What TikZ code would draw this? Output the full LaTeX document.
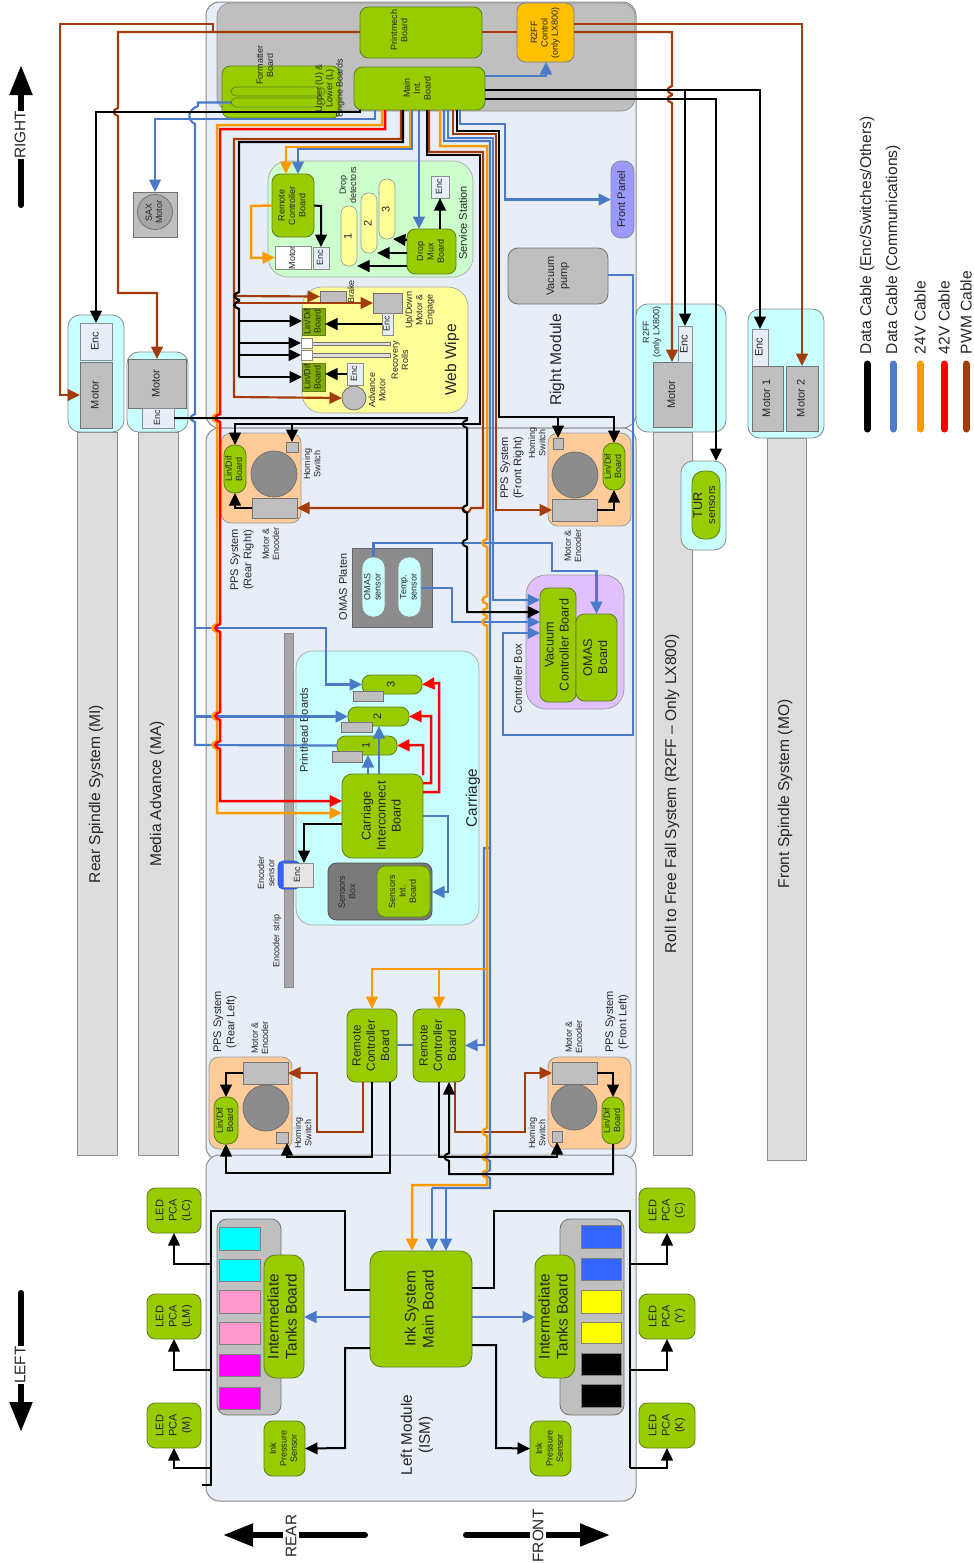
\documentclass[tikz,border=0pt]{standalone}
\usepackage{graphicx}
\usepackage{fontspec}
\setmainfont{Liberation Sans}
\usetikzlibrary{arrows.meta, calc}
\definecolor{panelc}{HTML}{E8EEF8}
\definecolor{greyc}{HTML}{BFBFBF}
\definecolor{stripc}{HTML}{DDDDDD}
\definecolor{cyanc}{HTML}{C8FFFF}
\definecolor{greenc}{HTML}{99CC00}
\definecolor{greenb}{HTML}{5F7F20}
\definecolor{orngc}{HTML}{FFCC99}
\definecolor{yelc}{HTML}{FFFF99}
\definecolor{mintc}{HTML}{CCFFCC}
\definecolor{purpc}{HTML}{E0C0FF}
\definecolor{amberc}{HTML}{FFC000}
\definecolor{panelblue}{HTML}{9999FF}
\definecolor{inkcyan}{HTML}{00FFFF}
\definecolor{inkpink}{HTML}{FF99CC}
\definecolor{inkmag}{HTML}{FF00FF}
\definecolor{inkblue}{HTML}{3366FF}
\definecolor{inkyel}{HTML}{FFFF00}
\definecolor{inkblk}{HTML}{000000}
\definecolor{cblack}{HTML}{000000}
\definecolor{cbluec}{HTML}{4A7AC8}
\definecolor{corangec}{HTML}{FF9900}
\definecolor{credc}{HTML}{FF0000}
\definecolor{cpwmc}{HTML}{A33C0A}
\newcommand{\fta}{\fontsize{5.4}{6.2}\selectfont}
\newcommand{\ftb}{\fontsize{6.6}{7.9}\selectfont}
\newcommand{\ftbb}{\fontsize{7.1}{8.5}\selectfont}
\newcommand{\ftc}{\fontsize{7.6}{9}\selectfont}
\newcommand{\ftd}{\fontsize{9.2}{10.8}\selectfont}
\newcommand{\fte}{\fontsize{9.35}{11}\selectfont}
\newcommand{\rot}[1]{\rotatebox{90}{\begin{tabular}{@{}c@{}}#1\end{tabular}}}
% wire hops, by direction of travel
\newcommand{\hopdn}[2]{-- (#1,#2-4) .. controls (#1-6,#2-2) and (#1-6,#2+2) .. (#1,#2+4)}
\newcommand{\hopup}[2]{-- (#1,#2+4) .. controls (#1-6,#2+2) and (#1-6,#2-2) .. (#1,#2-4)}
\newcommand{\hoplt}[2]{-- (#1+4,#2) .. controls (#1+2,#2+6) and (#1-2,#2+6) .. (#1-4,#2)}
\tikzset{
  xy/.style n args={4}{minimum width={(#3-#1)*0.6pt}, minimum height={(#4-#2)*0.6pt},
    at={({(#1+#3)/2},{(#2+#4)/2})}},
  every node/.append style={inner sep=0pt, outer sep=0pt, text=black!85},
  panel/.style={draw=black!45, fill=panelc, rounded corners=8pt, line width=.6pt},
  strip/.style={draw=black!45, fill=stripc, line width=.5pt},
  cybox/.style={draw=black!45, fill=cyanc, rounded corners=7pt, line width=.5pt},
  enc/.style={draw=black!45, fill=panelc, line width=.5pt, font=\fta},
  motor/.style={draw=black!55, fill=greyc, line width=.5pt, font=\fta},
  board/.style={draw=greenb, fill=greenc, rounded corners=5pt, line width=.5pt, font=\ftb},
  lindif/.style={draw=greenb, fill=greenc, rounded corners=6pt, line width=.5pt, font=\fta},
  pps/.style={draw=black!40, fill=orngc, rounded corners=6pt, line width=.5pt},
  round/.style={circle, draw=black!55, fill=black!45, line width=.5pt, font=\fta},
  lbl/.style={rotate=90, align=center, font=\fta},
  cbk/.style={draw=cblack, line width=1.2pt},
  cbl/.style={draw=cbluec, line width=1.3pt},
  c24/.style={draw=corangec, line width=1.5pt},
  c42/.style={draw=credc, line width=1.5pt},
  cpw/.style={draw=cpwmc, line width=1.3pt},
  bigarr/.style={line width=3.6pt, line cap=round, -{Triangle[length=18pt,width=13pt]}},
}
\begin{document}
\begin{tikzpicture}[x=0.6pt, y=-0.6pt, >={Triangle[length=7.5pt,width=7pt]}]
  \useasboundingbox (0,0) rectangle (974,1563);
  % modules
  \node[panel, xy={206}{2}{636}{428}] (modRight) {};
  \node[panel, xy={206}{428}{636}{1160}] (modCenter) {};
  \node[panel, xy={206}{1155}{636}{1501}] (modLeft) {};
  \node[draw=black!45, fill=greyc, rounded corners=8pt, xy={217}{3}{635}{111}] (topGrey) {};
  % spindle strips
  \node[strip, xy={77}{432}{117}{1155}] (stripMI) {};
  \node[strip, xy={138}{432}{178}{1155}] (stripMA) {};
  \node[strip, xy={653}{432}{692}{1155}] (stripRF) {};
  \node[strip, xy={767}{438}{806}{1160}] (stripMO) {};
  \node[lbl, font=\fte] (tMI) at (96,794) {Rear Spindle System (MI)};
  \node[lbl, font=\fte] (tMA) at (157,794) {Media Advance (MA)};
  \node[lbl, font=\fte] (tRF) at (672,794) {Roll to Free Fall System (R2FF -- Only LX800)};
  \node[lbl, font=\fte] (tMO) at (785,794) {Front Spindle System (MO)};
  \node[cybox, xy={68}{315}{124}{432}] (boxMI) {};
  \node[enc, font=\ftb, xy={80}{323}{112}{360}] (encMI) {\rot{Enc}};
  \node[motor, font=\ftb, xy={80}{362}{112}{428}] (motMI) {\rot{Motor}};
  \node[cybox, xy={127}{352}{188}{432}] (boxMA) {};
  \node[motor, font=\ftb, xy={128}{359}{186}{408}] (motMA) {\rot{Motor}};
  \node[enc, xy={142}{408}{174}{428}] (encMA) {\rot{Enc}};
  \node[cybox, xy={636}{304}{726}{432}] (boxRF) {};
  \node[motor, font=\ftb, xy={653}{362}{692}{427}] (motRF) {\rot{Motor}};
  \node[enc, font=\ftb, xy={678}{326}{692}{362}] (encRF) {\rot{Enc}};
  \node[lbl] (tRFb) at (652,332) {R2FF\\(only LX800)};
  \node[cybox, xy={748}{309}{824}{438}] (boxMO) {};
  \node[enc, font=\ftb, xy={752}{329}{768}{366}] (encMO) {\rot{Enc}};
  \node[motor, font=\ftb, xy={752}{366}{783}{431}] (mot1) {\rot{Motor 1}};
  \node[motor, font=\ftb, xy={786}{366}{818}{431}] (mot2) {\rot{Motor 2}};
  \node[cybox, xy={681}{461}{726}{550}] (boxTUR) {};
  \node[board, rounded corners=7pt, xy={692}{471}{720}{539}] (tur) {\rot{{\ftc TUR}\\sensors}};
  % top group
  \node[board, xy={360}{7}{482}{58}] (printmech) {};
  \node[lbl] (tPrintmech) at (399,30) {Printmech\\Board};
  \node[board, fill=amberc, draw=black!50, font=\fta, xy={517}{3}{574}{62}] (r2ffctl) {\rot{R2FF\\Control\\(only LX800)}};
  \node[board, xy={354}{67}{485}{110}] (mainint) {};
  \node[lbl] (tMainint) at (417,88) {Main\\Int.\\Board};
  \node[board, xy={222}{66}{340}{118}] (formatter) {};
  \node[draw=greenb, rounded corners=3pt, xy={231}{87}{325}{96}] (slotA) {};
  \node[draw=greenb, rounded corners=3pt, xy={231}{98}{325}{107}] (slotB) {};
  \node[lbl] (tFormatter) at (265,65) {Formatter\\Board};
  \node[lbl] (tEngine) at (330,88) {Upper (U) \&\\Lower (L)\\Engine Boards};
  \node[motor, xy={133}{192}{177}{237}] (sax) {};
  \node[round, minimum size=21pt, fill=black!35] (saxm) at (155,212) {\rot{SAX\\Motor}};
  \node[board, fill=panelblue, draw=black!45, rounded corners=6pt, xy={611}{161}{634}{238}] (frontpanel) {\rot{Front Panel}};
  \node[motor, rounded corners=6pt, font=\ftb, xy={508}{248}{608}{304}] (vacpump) {\rot{Vacuum\\pump}};
  \node[lbl, font=\fte] (tRight) at (557,360) {Right Module};
  % service station
  \node[draw=black!35, fill=mintc, rounded corners=12pt, xy={268}{161}{473}{277}] (service) {};
  \node[lbl, font=\ftb] (tService) at (463,223) {Service Station};
  \node[board, font=\fta, xy={272}{174}{314}{237}] (rcSS) {\rot{Remote\\Controller\\Board}};
  \node[enc, fill=white, xy={275}{247}{311}{268}] (motSS) {\rot{Motor}};
  \node[enc, xy={313}{247}{329}{269}] (encSS) {\rot{Enc}};
  \node[draw=black!40, fill=yelc, rounded corners=4.5pt, font=\ftb, xy={341}{206}{357}{266}] (dd1) {\rot{1}};
  \node[draw=black!40, fill=yelc, rounded corners=4.5pt, font=\ftb, xy={361}{193}{377}{253}] (dd2) {\rot{2}};
  \node[draw=black!40, fill=yelc, rounded corners=4.5pt, font=\ftb, xy={379}{179}{395}{239}] (dd3) {\rot{3}};
  \node[lbl] (tDrop) at (348,185) {Drop\\detectors};
  \node[board, font=\fta, xy={407}{229}{456}{274}] (dropmux) {\rot{Drop\\Mux\\Board}};
  \node[enc, xy={431}{176}{449}{198}] (encDD) {\rot{Enc}};
  % web wipe
  \node[draw=black!35, fill=yelc, rounded corners=12pt, xy={302}{287}{468}{413}] (webwipe) {};
  \node[lbl, font=\fte] (tWeb) at (452,360) {Web Wipe};
  \node[motor, xy={320}{291}{346}{302}] (brake) {};
  \node[lbl] (tBrake) at (351,292) {Brake};
  \node[motor, xy={373}{293}{402}{313}] (updown) {};
  \node[enc, xy={382}{313}{393}{335}] (encUD) {\rot{Enc}};
  \node[lbl] (tUpdown) at (420,310) {Up/Down\\Motor \&\\Engage};
  \node[draw=greenb, fill=greenc!85!black, font=\fta, xy={302}{308}{325}{335}] (ldWA) {\rot{Lin/Dif\\Board}};
  \node[draw=greenb, fill=greenc!85!black, font=\fta, xy={302}{363}{325}{391}] (ldWB) {\rot{Lin/Dif\\Board}};
  \node[motor, fill=stripc, xy={312}{342}{390}{345}] (rollA) {};
  \node[motor, fill=stripc, xy={312}{353}{390}{357}] (rollB) {};
  \node[enc, fill=white, xy={301}{338}{312}{348}] (rollAe) {};
  \node[enc, fill=white, xy={301}{350}{312}{360}] (rollBe) {};
  \node[lbl] (tRolls) at (400,360) {Recovery\\Rolls};
  \node[round, minimum size=14.4pt, fill=greyc] (advmot) at (354,398) {};
  \node[enc, xy={347}{363}{363}{385}] (encAM) {\rot{Enc}};
  \node[lbl] (tAdv) at (377,390) {Advance\\Motor};
  % pps systems
  \node[pps, xy={221}{433}{301}{523}] (ppsRR) {};
  \node[round, minimum size=27.6pt] (dRR) at (274,474) {};
  \node[lindif, xy={224}{445}{246}{493}] (ldRR) {\rot{Lin/Dif\\Board}};
  \node[motor, xy={252}{498}{297}{518}] (motRR) {};
  \node[motor, xy={286}{442}{298}{452}] (homRR) {};
  \node[lbl] (tHomRR) at (312,464) {Homing\\Switch};
  \node[lbl, font=\ftb] (tPpsRR) at (242,560) {PPS System\\(Rear Right)};
  \node[lbl] (tMeRR) at (271,544) {Motor \&\\Encoder};
  \node[pps, xy={548}{433}{631}{526}] (ppsFR) {};
  \node[round, minimum size=27.6pt] (dFR) at (575,475) {};
  \node[lindif, xy={603}{443}{625}{490}] (ldFR) {\rot{Lin/Dif\\Board}};
  \node[motor, xy={552}{499}{597}{521}] (motFR) {};
  \node[motor, xy={553}{438}{563}{449}] (homFR) {};
  \node[lbl, font=\ftb] (tPpsFR) at (512,468) {PPS System\\(Front Right)};
  \node[lbl] (tHomFR) at (537,443) {Homing\\Switch};
  \node[lbl] (tMeFR) at (573,546) {Motor \&\\Encoder};
  \node[pps, xy={209}{1057}{292}{1149}] (ppsRL) {};
  \node[round, minimum size=27.6pt] (dRL) at (266,1108) {};
  \node[motor, xy={243}{1062}{288}{1084}] (motRL) {};
  \node[lindif, xy={214}{1097}{238}{1144}] (ldRL) {\rot{Lin/Dif\\Board}};
  \node[motor, xy={276}{1132}{288}{1143}] (homRL) {};
  \node[lbl, font=\ftb] (tPpsRL) at (225,1022) {PPS System\\(Rear Left)};
  \node[lbl] (tMeRL) at (260,1038) {Motor \&\\Encoder};
  \node[lbl] (tHomRL) at (303,1133) {Homing\\Switch};
  \node[pps, xy={548}{1057}{631}{1149}] (ppsFL) {};
  \node[round, minimum size=27.6pt] (dFL) at (574,1107) {};
  \node[motor, xy={552}{1062}{597}{1084}] (motFL) {};
  \node[lindif, xy={602}{1097}{624}{1144}] (ldFL) {\rot{Lin/Dif\\Board}};
  \node[motor, xy={552}{1131}{562}{1142}] (homFL) {};
  \node[lbl, font=\ftb] (tPpsFL) at (617,1022) {PPS System\\(Front Left)};
  \node[lbl] (tMeFL) at (574,1037) {Motor \&\\Encoder};
  \node[lbl] (tHomFL) at (537,1133) {Homing\\Switch};
  % omas and controller box
  \node[draw=black!60, fill=black!45, xy={352}{548}{432}{627}] (omasplaten) {};
  \node[lbl, font=\ftb] (tOmas) at (343,587) {OMAS Platen};
  \node[draw=black!45, fill=cyanc, rounded corners=6.5pt, font=\fta, xy={362}{557}{385}{617}] (omassens) {\rot{OMAS\\sensor}};
  \node[draw=black!45, fill=cyanc, rounded corners=6.5pt, font=\fta, xy={398}{557}{421}{617}] (tempsens) {\rot{Temp.\\sensor}};
  \node[draw=black!40, fill=purpc, rounded corners=12pt, xy={526}{575}{624}{709}] (ctrlbox) {};
  \node[lbl, font=\ftb] (tCtrl) at (518,679) {Controller Box};
  \node[board, font=\ftc, xy={540}{588}{576}{702}] (vacctl) {\rot{Vacuum\\Controller Board}};
  \node[board, font=\ftc, xy={576}{614}{617}{701}] (omasbd) {\rot{OMAS\\Board}};
  % carriage
  \node[draw=black!35, fill=cyanc, rounded corners=10pt, xy={296}{651}{479}{925}] (carriage) {};
  \node[lbl, font=\ftd] (tCarriage) at (473,798) {Carriage};
  \node[draw=black!45, fill=black!35, xy={284}{633}{293}{987}] (encstrip) {};
  \node[lbl] (tStrip) at (277,941) {Encoder strip};
  \node[lbl] (tEncSens) at (266,873) {Encoder\\sensor};
  \node[lbl, font=\ftb] (tPrintheads) at (304,730) {Printhead Boards};
  \node[draw=inkblue!80!black, fill=inkblue, rounded corners=3pt, xy={278}{861}{300}{889}] (encsens) {};
  \node[enc, fill=white!90!black, xy={283}{863}{313}{887}] (encCR) {\rot{Enc}};
  \node[board, rounded corners=5pt, font=\ftb, xy={362}{675}{422}{694}] (ph3) {\rot{3}};
  \node[motor, xy={353}{691}{383}{701}] (ph3g) {};
  \node[board, rounded corners=5pt, font=\ftb, xy={348}{707}{409}{726}] (ph2) {\rot{2}};
  \node[motor, xy={341}{722}{372}{732}] (ph2g) {};
  \node[board, rounded corners=5pt, font=\ftb, xy={337}{736}{397}{755}] (ph1) {\rot{1}};
  \node[motor, xy={332}{751}{362}{762}] (ph1g) {};
  \node[board, font=\ftc, rounded corners=6pt, xy={342}{774}{423}{858}] (cib) {\rot{Carriage\\Interconnect\\Board}};
  \node[draw=black!70, fill=black!52, rounded corners=5pt, xy={328}{863}{432}{920}] (sensbox) {};
  \node[lbl] (tSensbox) at (347,892) {Sensors\\Box};
  \node[board, font=\fta, xy={377}{866}{430}{917}] (sensint) {\rot{Sensors\\Int.\\Board}};
  % remote boards
  \node[board, font=\ftbb, xy={347}{1009}{397}{1082}] (rcA) {\rot{Remote\\Controller\\Board}};
  \node[board, font=\ftbb, xy={413}{1009}{465}{1082}] (rcB) {\rot{Remote\\Controller\\Board}};
  % ink system
  \node[motor, rounded corners=6pt, xy={217}{1219}{281}{1415}] (holdL) {};
  \node[motor, rounded corners=6pt, xy={560}{1219}{624}{1415}] (holdR) {};
  \foreach \ya/\yb/\xcor in {1227/1250/inkcyan, 1259/1281/inkcyan, 1290/1313/inkpink, 1322/1344/inkpink, 1354/1376/inkmag, 1387/1409/inkmag}
  { \node[draw=black!50, fill=\xcor, line width=.5pt, xy={219}{\ya}{260}{\yb}] (tankL\ya) {}; }
  \foreach \ya/\yb/\xcor in {1225/1248/inkblue, 1258/1280/inkblue, 1290/1313/inkyel, 1322/1343/inkyel, 1353/1375/inkblk, 1384/1407/inkblk}
  { \node[draw=black!50, fill=\xcor, line width=.5pt, xy={581}{\ya}{621}{\yb}] (tankR\ya) {}; }
  \node[board, font=\ftd, rounded corners=7pt, xy={264}{1255}{304}{1378}] (itbL) {\rot{Intermediate\\Tanks Board}};
  \node[board, font=\ftd, rounded corners=7pt, xy={535}{1255}{575}{1378}] (itbR) {\rot{Intermediate\\Tanks Board}};
  \node[board, font=\ftd, rounded corners=7pt, xy={370}{1251}{472}{1367}] (inkmain) {\rot{Ink System\\Main Board}};
  \node[board, font=\fta, xy={264}{1421}{305}{1476}] (ipsL) {\rot{Ink\\Pressure\\Sensor}};
  \node[board, font=\fta, xy={530}{1421}{571}{1476}] (ipsR) {\rot{Ink\\Pressure\\Sensor}};
  \node[lbl, font=\ftd] (tLeft) at (417,1435) {Left Module\\(ISM)};
  \node[board, xy={147}{1188}{201}{1233}] (ledLC) {\rot{LED\\PCA\\(LC)}};
  \node[board, xy={147}{1294}{201}{1339}] (ledLM) {\rot{LED\\PCA\\(LM)}};
  \node[board, xy={147}{1403}{201}{1448}] (ledM) {\rot{LED\\PCA\\(M)}};
  \node[board, xy={639}{1188}{695}{1233}] (ledC) {\rot{LED\\PCA\\(C)}};
  \node[board, xy={639}{1294}{695}{1339}] (ledY) {\rot{LED\\PCA\\(Y)}};
  \node[board, xy={639}{1403}{695}{1448}] (ledK) {\rot{LED\\PCA\\(K)}};

  % pwm cables
  \draw[cpw] (printmech.east |- 0,32) -- (r2ffctl.west |- 0,32);
  \draw[cpw,->] (printmech.west |- 0,32) -- (118,32) \hopdn{118}{112} -- (118,293) -- (157,293) -- (motMA.north);
  \draw[cpw,->] (213,32) -- (213,24) -- (60,24) -- (60,395) -- (motMI.west);
  \draw[cpw,->] (r2ffctl.east |- 0,24) -- (802,24) -- (mot2.north);
  \draw[cpw,->] (r2ffctl.east |- 0,32) -- (672,32) \hopdn{672}{90} \hopdn{672}{99} -- (motRF.north -| 672,0);
  \draw[cpw,->] (mainint.south -| 401,0) -- (401,139) -- (234,139) -- (234,397) -- (advmot.west);
  \draw[cpw,->] (234,296) -- (brake.west);
  \draw[cpw,->] (234,303) -- (updown.west);
  \draw[cpw,->] (mainint.south -| 429,0) -- (429,152) -- (483,152) -- (483,508) \hoplt{467}{508} -- (motRR.east);
  \draw[cpw,->] (mainint.south -| 453,0) -- (453,134) -- (496,134) -- (496,510) -- (motFR.west);
  \draw[cpw,->] (rcA.south -| 363,0) -- (363,1132) -- (317,1132) -- (317,1073) -- (motRL.east);
  \draw[cpw,->] (rcB.south -| 455,0) -- (455,1132) -- (525,1132) -- (525,1073) -- (motFL.west);
  % blue cables
  \draw[cbl,->] (mainint.east |- 0,76) -- (546,76) -- (r2ffctl.south -| 546,0);
  \draw[cbl,->] (mainint.south -| 375,0) -- (375,119) -- (155,119) -- (sax.north);
  \draw[cbl] (slotB.west) -- (198,102.5) -- (198,106) .. controls (187,110) and (187,120) .. (195,124) \hopdn{195}{418} -- (195,745) -- (ph1.west);
  \draw[cbl,->] (195,628) -- (326,628) -- (326,684.5) -- (ph3.west);
  \draw[cbl,->] (195,716.5) -- (ph2.west);
  \draw[cbl,->] (mainint.south -| 412,0) -- (412,149) -- (298,149) -- (rcSS.north -| 298,0);
  \draw[cbl,->] (mainint.south -| 419,0) -- (dropmux.north -| 419,0);
  \draw[cbl,->] (mainint.south -| 460,0) -- (460,124) -- (505,124) -- (505,199.5) -- (frontpanel.west);
  \draw[cbl,->] (mainint.south -| 448,0) -- (448,138) -- (493,138) -- (493,600) -- (vacctl.west |- 0,600);
  \draw[cbl] (mainint.south -| 444,0) -- (444,141) -- (490,141) -- (490,1130) \hopdn{490}{1157} \hopdn{490}{1174} -- (490,1188) -- (432,1188);
  \draw[cbl,->] (490,848) -- (484,848) -- (484,1045) -- (rcB.east);
  \draw[cbl] (rcA.east |- 0,1045) -- (rcB.west |- 0,1045);
  \draw[cbl,->] (446,1188) -- (inkmain.north -| 446,0);
  \draw[cbl,->] (432,1188) -- (inkmain.north -| 432,0);
  \draw[cbl,->] (vacpump.east |- 0,275) -- (633,275) -- (633,735) -- (503,735) -- (503,633) -- (vacctl.west |- 0,633);
  \draw[cbl,->] (omassens.north) -- (373.5,543) -- (552,543) -- (552,571) -- (596.5,571) -- (omasbd.north);
  \draw[cbl,->] (tempsens.east |- 0,588) -- (452,588) -- (452,622) -- (vacctl.west |- 0,622);
  \draw[cbl,->] (cib.north -| 379,0) -- (ph2.south -| 379,0);
  \draw[cbl,->] (cib.north -| 368,0) -- (ph1.south -| 368,0);
  \draw[cbl,->] (cib.east |- 0,816) -- (448,816) -- (448,892) -- (sensbox.east |- 0,892);
  \draw[cbl,->] (inkmain.west |- 0,1317) -- (itbL.east |- 0,1317);
  \draw[cbl,->] (inkmain.east |- 0,1317) -- (itbR.west |- 0,1317);
  % power cables
  \draw[c24,->] (mainint.south -| 382,0) -- (382,125) -- (217,125) \hopdn{217}{418} \hopdn{217}{628} \hopdn{217}{716} \hopdn{217}{745} -- (217,813) -- (cib.west |- 0,813);
  \draw[c42,->] (mainint.south -| 385,0) -- (385,129) -- (220,129) \hopdn{220}{418} \hopdn{220}{628} \hopdn{220}{716} \hopdn{220}{745} -- (220,801) -- (cib.west |- 0,801);
  \draw[c24,->] (mainint.south -| 410,0) -- (410,147) -- (286,147) -- (rcSS.north -| 286,0);
  \draw[c24,->] (rcSS.west) -- (251,206) -- (251,258) -- (motSS.west);
  \draw[c24,->] (mainint.south -| 440,0) -- (440,146) -- (487,146) \hopdn{487}{543} \hopdn{487}{600} \hopdn{487}{612} \hopdn{487}{622} \hopdn{487}{1132} \hopdn{487}{1157} \hopdn{487}{1174} -- (487,1185) -- (412,1185) -- (inkmain.north -| 412,0);
  \draw[c24,->] (487,969) -- (372,969) -- (rcA.north);
  \draw[c24,->] (439,969) -- (rcB.north);
  \draw[c42,->] (cib.east |- 0,792) -- (439,792) -- (439,683) -- (ph3.east);
  \draw[c42,->] (cib.east |- 0,783) -- (431,783) -- (431,716) -- (ph2.east);
  \draw[c42,->] (423,775) -- (423,745) -- (ph1.east);
  % black cables
  \draw[cbk,->] (mainint.south -| 360,0) -- (360,112) -- (96,112) -- (encMI.north);
  \draw[cbk,->] (encMA.east) -- (467,418) \hopdn{467}{424} \hopdn{467}{509} \hopdn{467}{543} -- (467,612) -- (vacctl.west |- 0,612);
  \draw[cbk,line width=1.5pt,->] (mainint.south -| 427,0) -- (427,155) -- (480,155) -- (480,424) -- (235,424) -- (ldRR.north);
  \draw[cbk,->] (292,424) -- (homRR.north);
  \draw[cbk,line width=1.4pt] (mainint.south -| 403,0) -- (403,142) -- (239,142) \hopdn{239}{296} \hopdn{239}{305} -- (239,377);
  \foreach \yn/\xtgt in {321/ldWA, 343/rollAe, 355/rollBe, 377/ldWB}
    \draw[cbk,->] (239,\yn) -- (\xtgt.west |- 0,\yn);
  \draw[cbk,line width=1.4pt,->] (mainint.south -| 457,0) -- (457,131) -- (499,131) -- (499,417) -- (614,417) -- (ldFR.north);
  \draw[cbk,->] (558,417) -- (homFR.north);
  \draw[cbk,line width=1.5pt,->] (mainint.east |- 0,90) -- (760,90) -- (encMO.north);
  \draw[cbk,->] (685,90) -- (encRF.north);
  \draw[cbk,line width=1.5pt,->] (mainint.east |- 0,99) -- (716,99) -- (boxTUR.north -| 716,0);
  \draw[cbk,->] (rcSS.east) -- (321,206) -- (encSS.north);
  \draw[cbk,->] (dropmux.north -| 440,0) -- (encDD.south);
  \draw[cbk,->] (dropmux.west |- 0,240) -- (dd3.south -| 393,0);
  \draw[cbk,->] (dropmux.west |- 0,253) -- (dd2.east |- 0,253);
  \draw[cbk,->] (dropmux.west |- 0,266) -- (dd1.east |- 0,266);
  \draw[cbk,->] (encUD.west) -- (ldWA.east |- 0,324);
  \draw[cbk,->] (encAM.west) -- (ldWB.east |- 0,374);
  \draw[cbk,->] (motRR.west) -- (235,508) -- (ldRR.south);
  \draw[cbk,->] (motFR.east) -- (614,510) -- (ldFR.south);
  \draw[cbk,->] (motRL.west) -- (226,1073) -- (ldRL.north);
  \draw[cbk,->] (motFL.east) -- (613,1073) -- (ldFL.north);
  \draw[cbk,line width=1.4pt,->] (cib.west |- 0,824) -- (304,824) -- (encCR.north -| 304,0);
  \draw[cbk,->] (rcA.south -| 372,0) -- (372,1157) -- (287,1157) -- (homRL.south -| 287,0);
  \draw[cbk,->] (rcA.south -| 390,0) -- (390,1173) -- (226,1173) -- (ldRL.south);
  \draw[cbk,->] (rcB.south -| 439,0) -- (439,1157) -- (557,1157) -- (homFL.south);
  \draw[cbk,->] (ldFL.south) -- (613,1174) -- (449,1174) \hopup{449}{1157} -- (rcB.south -| 449,0);
  % ink system wiring
  \draw[cbk] (inkmain.west |- 0,1290) -- (345,1290) -- (345,1211) -- (211,1211) -- (211,1485) -- (202,1485);
  \draw[cbk,->] (211,1264) -- (174,1264) -- (ledLC.south);
  \draw[cbk,->] (211,1370) -- (174,1370) -- (ledLM.south);
  \draw[cbk,->] (211,1468) -- (174,1468) -- (ledM.south);
  \draw[cbk] (inkmain.east |- 0,1288) -- (494,1288) -- (494,1211) -- (630,1211) -- (630,1468);
  \draw[cbk,->] (630,1264) -- (667,1264) -- (ledC.south);
  \draw[cbk,->] (630,1370) -- (667,1370) -- (ledY.south);
  \draw[cbk,->] (630,1468) -- (667,1468) -- (ledK.south);
  \draw[cbk,->] (inkmain.west |- 0,1348) -- (345,1348) -- (345,1448) -- (ipsL.east);
  \draw[cbk,->] (inkmain.east |- 0,1345) -- (496,1345) -- (496,1448) -- (ipsR.west);

  % direction arrows
  \coordinate (rightA) at (21,205); \coordinate (rightB) at (21,65);
  \coordinate (leftA) at (21,1293); \coordinate (leftB) at (21,1432);
  \coordinate (rearA) at (365,1535); \coordinate (rearB) at (223,1535);
  \coordinate (frontA) at (466,1535); \coordinate (frontB) at (610,1535);
  \draw[bigarr] (rightA) -- (rightB);
  \draw[bigarr] (leftA) -- (leftB);
  \draw[bigarr] (rearA) -- (rearB);
  \draw[bigarr] (frontA) -- (frontB);
  \node[lbl, font=\ftd, fill=white, inner ysep=1.5pt] (tRIGHT) at (20,135) {RIGHT};
  \node[lbl, font=\ftd, fill=white, inner ysep=1.5pt] (tLEFT) at (20,1365) {LEFT};
  \node[lbl, font=\ftd, fill=white, inner ysep=1.5pt] (tREAR) at (291,1536) {REAR};
  \node[lbl, font=\ftd, fill=white, inner ysep=1.5pt] (tFRONT) at (538,1536) {FRONT};

  % legend
  \foreach \xn/\xsty/\xtxt in {867/black/{Data Cable (Enc/Switches/Others)}, 893/cbluec/{Data Cable (Communications)}, 920/corangec/24V Cable, 944/credc/42V Cable, 966/cpwmc/PWM Cable}
  { \coordinate (legA\xn) at (\xn,364);
    \coordinate (legB\xn) at (\xn,429);
    \draw[line width=4.2pt, line cap=round, color=\xsty] (legA\xn) -- (legB\xn);
    \node[lbl, font=\fte, anchor=west] (leg\xn) at (\xn,354) {\xtxt}; }
\end{tikzpicture}
\end{document}
